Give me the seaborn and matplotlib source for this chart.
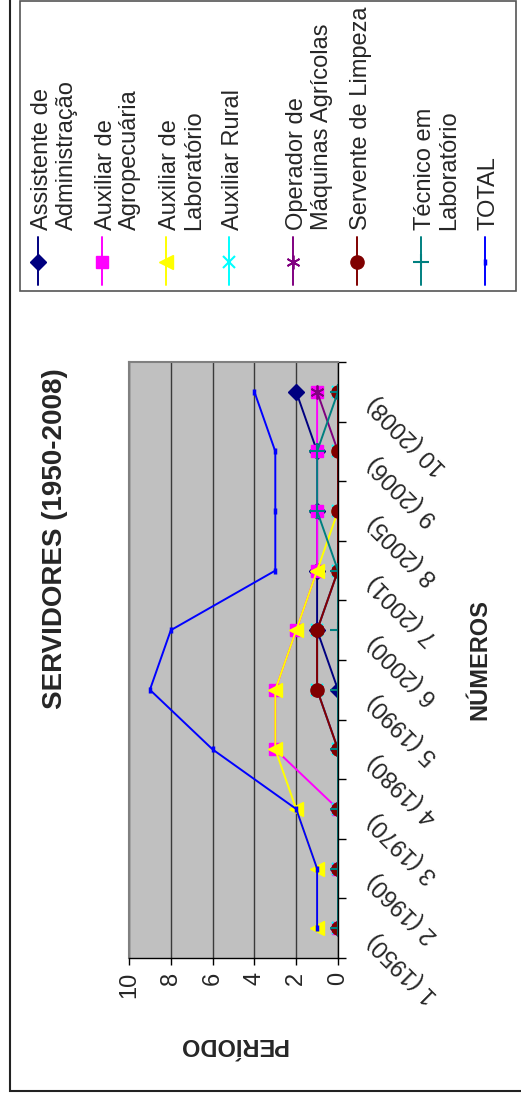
import matplotlib
matplotlib.use("Agg")
import matplotlib.pyplot as plt
from matplotlib.patches import Rectangle
import seaborn as sns
import pandas as pd

# categorias do eixo (10 períodos)
categorias = ["1 (1950)", "2 (1960)", "3 (1970)", "4 (1980)", "5 (1990)",
              "6 (2000)", "7 (2001)", "8 (2005)", "9 (2006)", "10 (2008)"]
posicoes = list(range(1, 11))

# valores por série
assistente_adm = [0, 0, 0, 0, 0, 1, 1, 1, 1, 2]
auxiliar_agro = [0, 0, 0, 3, 3, 2, 1, 1, 1, 1]
auxiliar_lab = [1, 1, 2, 3, 3, 2, 1, 0, 0, 0]
auxiliar_rural = [0, 0, 0, 0, 1, 1, 0, 0, 0, 0]
operador_maq = [0, 0, 0, 0, 1, 1, 0, 0, 0, 1]
servente_limp = [0, 0, 0, 0, 1, 1, 0, 0, 0, 0]
tecnico_lab = [0, 0, 0, 0, 0, 0, 0, 1, 1, 0]
total = [1, 1, 2, 6, 9, 8, 3, 3, 3, 4]

nomes = ["Assistente de\nAdministração", "Auxiliar de\nAgropecuária",
         "Auxiliar de\nLaboratório", "Auxiliar Rural",
         "Operador de\nMáquinas Agrícolas", "Servente de Limpeza",
         "Técnico em\nLaboratório", "TOTAL"]
valores = [assistente_adm, auxiliar_agro, auxiliar_lab, auxiliar_rural,
           operador_maq, servente_limp, tecnico_lab, total]

estilos = [
    dict(color="#000080", marker="D", ms=8, mew=1),
    dict(color="#FF00FF", marker="s", ms=8.5, mew=1),
    dict(color="#FFFF00", marker="<", ms=10, mew=1),
    dict(color="#00FFFF", marker="x", ms=8.5, mew=1.5),
    dict(color="#800080", marker=(6, 2, 0), ms=10, mew=1.3),
    dict(color="#800000", marker="o", ms=9.5, mew=1),
    dict(color="#008080", marker="+", ms=11, mew=1.5),
    dict(color="#0000FF", marker="|", ms=5, mew=2.5),
]

sns.set_theme(style="white")
plt.rcParams["font.family"] = ["Liberation Sans", "DejaVu Sans"]

W, H = 521, 1106
fig = plt.figure(figsize=(W / 100, H / 100), dpi=100)

# camada de fundo em pixels: molduras e legenda
lax = fig.add_axes([0, 0, 1, 1], zorder=-1)
lax.set_xlim(0, W)
lax.set_ylim(H, 0)
lax.axis("off")
lax.add_patch(Rectangle((10, -10), 700, 1101, fill=False, ec="#222222", lw=1.5, clip_on=False))
lax.add_patch(Rectangle((20, 1), 496, 290, fill=False, ec="#555555", lw=1.2, clip_on=False))

ax = fig.add_axes([129 / W, 1 - 958 / H, (338 - 129) / W, (958 - 362) / H])
ax.set_facecolor("#C0C0C0")

for nome, vals, st in zip(nomes, valores, estilos):
    df = pd.DataFrame({"valor": vals, "periodo": posicoes})
    sns.lineplot(data=df, x="valor", y="periodo", sort=False, estimator=None,
                 color=st["color"], marker=st["marker"], markersize=st["ms"],
                 markeredgewidth=st["mew"], markeredgecolor=st["color"],
                 lw=1.4, ax=ax, legend=False)

ax.set_xlim(10, 0)
ax.set_ylim(0.5, 10.5)
ax.set_xlabel("")
ax.set_ylabel("")
ax.set_xticks(range(0, 11, 2))
ax.set_xticklabels([str(v) for v in range(0, 11, 2)], rotation=90, fontsize=17)
ax.tick_params(axis="x", direction="out", length=5, width=1, color="black", pad=5, bottom=True)
ax.xaxis.grid(True, color="#3a3a3a", lw=1)
ax.yaxis.grid(False)
ax.set_axisbelow(True)

ax.yaxis.tick_right()
ax.set_yticks([p + 0.5 for p in range(0, 11)])
ax.set_yticklabels([])
ax.set_yticks(posicoes, minor=True)
ax.set_yticklabels(categorias, minor=True, fontsize=17)
ax.tick_params(axis="y", which="major", direction="out", length=6, width=1, color="black", right=True)
ax.tick_params(axis="y", which="minor", length=0, pad=30, right=True)
for lbl in ax.get_yticklabels(minor=True):
    lbl.set_rotation(135)
    lbl.set_rotation_mode("anchor")
    lbl.set_ha("right")
    lbl.set_va("bottom")

for lado in ["bottom", "right"]:
    ax.spines[lado].set_color("black")
    ax.spines[lado].set_linewidth(1)
for lado in ["left", "top"]:
    ax.spines[lado].set_color("#808080")
    ax.spines[lado].set_linewidth(1.5)

# títulos
fig.text(55 / W, 1 - 539 / H, "SERVIDORES (1950-2008)", rotation=90,
         fontsize=20, fontweight="bold", ha="center", va="center")
fig.text(480 / W, 1 - 660 / H, "NÚMEROS", rotation=90,
         fontsize=17, fontweight="bold", ha="center", va="center")
fig.text(233 / W, 1 - 1045 / H, "PERÍODO", rotation=180,
         fontsize=17, fontweight="bold", ha="center", va="center")

# legenda (vertical, entradas da esquerda para a direita)
for i, (nome, st) in enumerate(zip(nomes, estilos)):
    x = 38 + 63.8 * i
    lax.plot([x, x], [237, 285], color=st["color"], lw=1.4)
    lax.plot([x], [262], color=st["color"], marker=st["marker"], ms=st["ms"],
             mew=st["mew"], mec=st["color"], ls="none")
    lax.text(x - 7, 230, nome, rotation=90, rotation_mode="anchor",
             ha="left", va="top", fontsize=17, linespacing=1.15)

fig.savefig("out.png", dpi=100)
